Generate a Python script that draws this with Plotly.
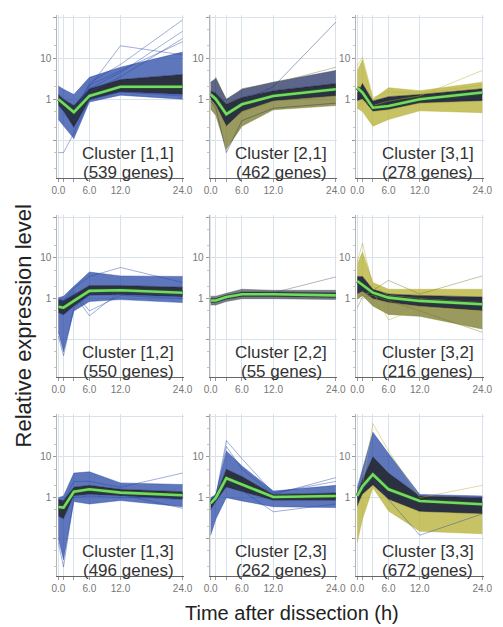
import plotly.graph_objects as go

HOURS = [0, 1, 3, 6, 12, 24]
X_TICK_VALS = [0, 1, 3, 6, 12, 24]
X_TICK_TEXT = ["0.0", "", "", "6.0", "12.0", "24.0"]
Y_TICK_VALS = [0.01, 0.1, 1, 10, 100]
Y_TICK_TEXT = ["", "", "1", "10", ""]

# ---------- Cluster [1,1] ----------
C11_NAME = "Cluster [1,1]"
C11_GENES = "(539 genes)"
C11_MEAN = [1.0, 0.78, 0.48, 1.2, 2.0, 2.0]
C11_HI = [2.1, 1.75, 1.3, 3.4, 6.0, 14.0]
C11_CORE_HI = [1.3, 1.0, 0.7, 1.8, 3.0, 4.0]
C11_CORE_LO = [0.7, 0.5, 0.2, 0.95, 1.5, 1.3]
C11_LO = [0.32, 0.22, 0.11, 0.85, 1.25, 1.0]
C11_EXTRA = [[1.1, 0.9, 0.5, 2.0, 20.0, 12.0], [1.0, 0.8, 0.4, 2.5, 7.0, 85.0],
             [0.9, 0.7, 0.5, 1.8, 4.5, 45.0], [1.3, 1.0, 0.6, 2.2, 5.0, 25.0],
             [0.8, 0.6, 0.3, 1.5, 3.5, 30.0], [0.05, 0.05, 0.15, 1.0, 1.5, 1.2]]

# ---------- Cluster [2,1] ----------
C21_NAME = "Cluster [2,1]"
C21_GENES = "(462 genes)"
C21_MEAN = [1.3, 1.0, 0.43, 0.75, 1.2, 1.75]
C21_HI = [2.6, 3.2, 1.0, 1.75, 2.6, 5.0]
C21_CORE_HI = [1.6, 1.4, 0.75, 1.1, 1.6, 2.4]
C21_CORE_LO = [1.0, 0.7, 0.22, 0.5, 0.9, 1.2]
C21_LO = [0.57, 0.4, 0.06, 0.22, 0.55, 0.7]
C21_EXTRA = [[1.1, 1.0, 0.5, 0.9, 2.0, 75.0], [1.4, 3.4, 0.8, 1.8, 2.4, 6.0],
             [0.9, 0.6, 0.05, 0.3, 0.6, 0.8]]

# ---------- Cluster [3,1] ----------
C31_NAME = "Cluster [3,1]"
C31_GENES = "(278 genes)"
C31_MEAN = [1.9, 1.45, 0.62, 0.68, 1.0, 1.45]
C31_HI = [5.0, 9.0, 1.0, 1.9, 1.6, 2.6]
C31_CORE_HI = [1.4, 2.4, 0.9, 1.15, 1.3, 1.8]
C31_CORE_LO = [0.9, 1.0, 0.5, 0.55, 0.8, 0.9]
C31_LO = [0.6, 0.5, 0.22, 0.32, 0.52, 0.47]
C31_EXTRA = [[0.6, 0.9, 0.7, 0.9, 1.2, 5.0], [6.5, 10.5, 1.1, 1.5, 1.4, 2.2]]

# ---------- Cluster [1,2] ----------
C12_NAME = "Cluster [1,2]"
C12_GENES = "(550 genes)"
C12_MEAN = [0.63, 0.6, 0.88, 1.55, 1.6, 1.4]
C12_HI = [1.05, 1.15, 2.0, 4.5, 3.6, 3.5]
C12_CORE_HI = [0.95, 0.9, 1.25, 2.1, 2.1, 1.9]
C12_CORE_LO = [0.45, 0.4, 0.65, 1.2, 1.25, 1.1]
C12_LO = [0.15, 0.05, 0.5, 0.85, 0.95, 0.8]
C12_EXTRA = [[0.7, 0.8, 1.3, 0.38, 1.5, 1.2], [0.8, 0.9, 1.8, 3.5, 5.8, 2.5],
             [0.9, 0.85, 1.5, 0.5, 1.2, 1.0], [0.12, 0.04, 0.6, 1.3, 1.4, 1.2]]

# ---------- Cluster [2,2] ----------
C22_NAME = "Cluster [2,2]"
C22_GENES = "(55 genes)"
C22_MEAN = [0.9, 0.9, 1.1, 1.28, 1.28, 1.2]
C22_HI = [1.15, 1.15, 1.35, 1.7, 1.6, 1.6]
C22_CORE_HI = [1.0, 1.0, 1.2, 1.45, 1.45, 1.4]
C22_CORE_LO = [0.8, 0.8, 0.95, 1.12, 1.12, 1.05]
C22_LO = [0.7, 0.7, 0.85, 1.0, 1.0, 0.95]
C22_EXTRA = [[1.0, 1.0, 1.1, 1.3, 1.4, 3.4]]

# ---------- Cluster [3,2] ----------
C32_NAME = "Cluster [3,2]"
C32_GENES = "(216 genes)"
C32_MEAN = [2.7, 2.2, 1.4, 1.06, 0.88, 0.73]
C32_HI = [7.0, 14.0, 2.5, 1.7, 1.7, 1.7]
C32_CORE_HI = [3.5, 3.5, 1.7, 1.3, 1.2, 1.1]
C32_CORE_LO = [1.3, 1.5, 1.0, 0.8, 0.65, 0.5]
C32_LO = [1.0, 1.2, 0.66, 0.41, 0.37, 0.18]
C32_EXTRA = [[1.1, 1.2, 1.5, 0.3, 0.6, 0.5], [1.0, 1.2, 1.6, 2.8, 1.3, 3.6],
             [8.0, 23.0, 2.0, 1.2, 1.0, 0.8], [0.6, 1.1, 1.2, 0.9, 0.5, 0.15]]

# ---------- Cluster [1,3] ----------
C13_NAME = "Cluster [1,3]"
C13_GENES = "(496 genes)"
C13_MEAN = [0.59, 0.57, 1.4, 1.6, 1.33, 1.15]
C13_HI = [1.0, 1.1, 4.0, 4.3, 2.3, 2.1]
C13_CORE_HI = [0.9, 0.85, 1.8, 2.0, 1.6, 1.4]
C13_CORE_LO = [0.35, 0.3, 1.1, 1.2, 1.1, 0.9]
C13_LO = [0.1, 0.03, 0.8, 0.7, 0.85, 0.6]
C13_EXTRA = [[0.9, 0.8, 2.5, 2.5, 1.8, 4.0], [0.7, 0.6, 1.5, 1.5, 1.2, 0.55],
             [0.08, 0.02, 1.0, 1.1, 1.0, 1.0]]

# ---------- Cluster [2,3] ----------
C23_NAME = "Cluster [2,3]"
C23_GENES = "(262 genes)"
C23_MEAN = [0.72, 1.0, 3.0, 2.1, 1.04, 1.1]
C23_HI = [1.0, 1.2, 14.0, 6.0, 1.45, 2.0]
C23_CORE_HI = [0.9, 1.1, 5.0, 3.3, 1.2, 1.3]
C23_CORE_LO = [0.5, 0.8, 1.8, 1.4, 0.85, 0.85]
C23_LO = [0.12, 0.3, 1.0, 0.83, 0.6, 0.57]
C23_EXTRA = [[0.9, 1.1, 25.0, 9.0, 1.3, 2.5], [0.8, 1.0, 2.5, 1.5, 0.45, 0.7],
             [0.9, 1.1, 18.0, 5.0, 1.2, 3.1]]

# ---------- Cluster [3,3] ----------
C33_NAME = "Cluster [3,3]"
C33_GENES = "(672 genes)"
C33_MEAN = [1.1, 1.9, 3.7, 1.6, 0.83, 0.69]
C33_HI = [1.75, 5.0, 40.0, 12.0, 1.2, 1.1]
C33_CORE_HI = [1.3, 2.8, 10.0, 4.0, 1.1, 1.0]
C33_CORE_LO = [0.6, 1.2, 2.0, 0.9, 0.45, 0.4]
C33_LO = [0.08, 0.3, 1.75, 0.47, 0.15, 0.13]
C33_EXTRA = [[1.0, 1.5, 3.0, 0.9, 0.12, 0.4], [1.2, 2.0, 65.0, 14.0, 1.0, 2.0]]

# upper colour, lower colour of each cloud
BLUE = (40, 72, 165)
NAVY = (38, 50, 100)
OLIVE = (120, 120, 40)
YELLOW = (180, 175, 50)
GRAY = (80, 85, 100)

CLUSTERS = [
    # (col, row, name, genes, mean, hi, core_hi, core_lo, lo, extra, upper, lower)
    (0, 0, C11_NAME, C11_GENES, C11_MEAN, C11_HI, C11_CORE_HI, C11_CORE_LO, C11_LO, C11_EXTRA, BLUE, BLUE),
    (1, 0, C21_NAME, C21_GENES, C21_MEAN, C21_HI, C21_CORE_HI, C21_CORE_LO, C21_LO, C21_EXTRA, NAVY, OLIVE),
    (2, 0, C31_NAME, C31_GENES, C31_MEAN, C31_HI, C31_CORE_HI, C31_CORE_LO, C31_LO, C31_EXTRA, YELLOW, YELLOW),
    (0, 1, C12_NAME, C12_GENES, C12_MEAN, C12_HI, C12_CORE_HI, C12_CORE_LO, C12_LO, C12_EXTRA, BLUE, BLUE),
    (1, 1, C22_NAME, C22_GENES, C22_MEAN, C22_HI, C22_CORE_HI, C22_CORE_LO, C22_LO, C22_EXTRA, GRAY, GRAY),
    (2, 1, C32_NAME, C32_GENES, C32_MEAN, C32_HI, C32_CORE_HI, C32_CORE_LO, C32_LO, C32_EXTRA, YELLOW, OLIVE),
    (0, 2, C13_NAME, C13_GENES, C13_MEAN, C13_HI, C13_CORE_HI, C13_CORE_LO, C13_LO, C13_EXTRA, BLUE, BLUE),
    (1, 2, C23_NAME, C23_GENES, C23_MEAN, C23_HI, C23_CORE_HI, C23_CORE_LO, C23_LO, C23_EXTRA, BLUE, BLUE),
    (2, 2, C33_NAME, C33_GENES, C33_MEAN, C33_HI, C33_CORE_HI, C33_CORE_LO, C33_LO, C33_EXTRA, BLUE, YELLOW),
]

W, H = 503, 627
COL_PX = [(52.9, 183.6), (209.9, 341.6), (361.0, 492.5)]
ROW_PX = [(15, 178), (215, 377), (414, 576)]
FONT = "Liberation Sans, Arial, Helvetica, sans-serif"
GRID = "#d9e1ea"


def rgba(c, a):
    return "rgba(%d,%d,%d,%.2f)" % (c[0], c[1], c[2], a)


fig = go.Figure()
layout = dict(width=W, height=H, margin=dict(l=0, r=0, t=0, b=0),
              paper_bgcolor="white", plot_bgcolor="white", showlegend=False,
              font=dict(family=FONT, color="#333"))
annotations = []

for i, (col, row, name, genes, mean, hi, chi, clo, lo, extra, up, dn) in enumerate(CLUSTERS):
    n = i + 1
    xa, ya = "x%d" % n, "y%d" % n
    xk, yk = "xaxis%d" % n, "yaxis%d" % n
    x0, x1 = COL_PX[col]
    y0, y1 = ROW_PX[row]
    layout[xk] = dict(domain=[x0 / W, x1 / W], anchor=ya, range=[-0.2, 24.3],
                      tickvals=X_TICK_VALS, ticktext=X_TICK_TEXT, ticks="outside",
                      ticklen=3, tickcolor="#999", showline=True, linecolor="#666",
                      linewidth=1.3, showgrid=True, gridcolor=GRID, gridwidth=1,
                      zeroline=False, tickfont=dict(size=10, color="#777", family=FONT))
    layout[yk] = dict(domain=[1 - y1 / H, 1 - y0 / H], anchor=xa, type="log",
                      range=[-1.92, 2.05], tickvals=Y_TICK_VALS, ticktext=Y_TICK_TEXT,
                      ticks="outside", ticklen=3, tickcolor="#999", showline=True,
                      linecolor="#b5b5b5", linewidth=1, showgrid=True, gridcolor=GRID,
                      zeroline=False, tickfont=dict(size=10, color="#777", family=FONT),
                      minor=dict(ticks="outside", ticklen=2, tickcolor="#c4c4c4",
                                 dtick="D2", showgrid=False))

    common = dict(x=HOURS, xaxis=xa, yaxis=ya, mode="lines", hoverinfo="skip")
    fig.add_trace(go.Scatter(y=lo, line=dict(color=rgba(dn, 0.6), width=0.7), **common))
    fig.add_trace(go.Scatter(y=clo, fill="tonexty", fillcolor=rgba(dn, 0.75),
                             line=dict(color=rgba(dn, 0.7), width=0.7), **common))
    fig.add_trace(go.Scatter(y=chi, fill="tonexty", fillcolor="rgba(14,20,38,0.88)",
                             line=dict(color="rgba(14,20,38,0.6)", width=0.7), **common))
    fig.add_trace(go.Scatter(y=hi, fill="tonexty", fillcolor=rgba(up, 0.75),
                             line=dict(color=rgba(up, 0.6), width=0.7), **common))
    for k, ex in enumerate(extra):
        c = up if k % 2 == 0 else dn
        fig.add_trace(go.Scatter(y=ex, line=dict(color=rgba(c, 0.55), width=0.8), **common))
    fig.add_trace(go.Scatter(y=mean, line=dict(color="#2b4a2b", width=4.2), **common))
    fig.add_trace(go.Scatter(y=mean, line=dict(color="#72dc62", width=2.6), **common))

    cx = (x0 + x1) / 2 + 8
    annotations.append(dict(x=cx / W, y=1 - (y1 - 25) / H, xref="paper", yref="paper",
                            text=name, showarrow=False, xanchor="center", yanchor="middle",
                            font=dict(size=17, color="#333", family=FONT)))
    annotations.append(dict(x=cx / W, y=1 - (y1 - 6) / H, xref="paper", yref="paper",
                            text=genes, showarrow=False, xanchor="center", yanchor="middle",
                            font=dict(size=17, color="#333", family=FONT)))

annotations.append(dict(x=18 / W, y=1 - 326 / H, xref="paper", yref="paper",
                        text="Relative expression level", showarrow=False, textangle=-90,
                        xanchor="center", yanchor="middle",
                        font=dict(size=22, color="#222", family=FONT)))
annotations.append(dict(x=295 / W, y=1 - 613 / H, xref="paper", yref="paper",
                        text="Time after dissection (h)", showarrow=False,
                        xanchor="center", yanchor="middle",
                        font=dict(size=20, color="#222", family=FONT)))
layout["annotations"] = annotations
fig.update_layout(**layout)
fig.write_html("out.html", config={"displayModeBar": False},
               post_script="document.body.style.margin='0';document.body.style.overflow='hidden';")
